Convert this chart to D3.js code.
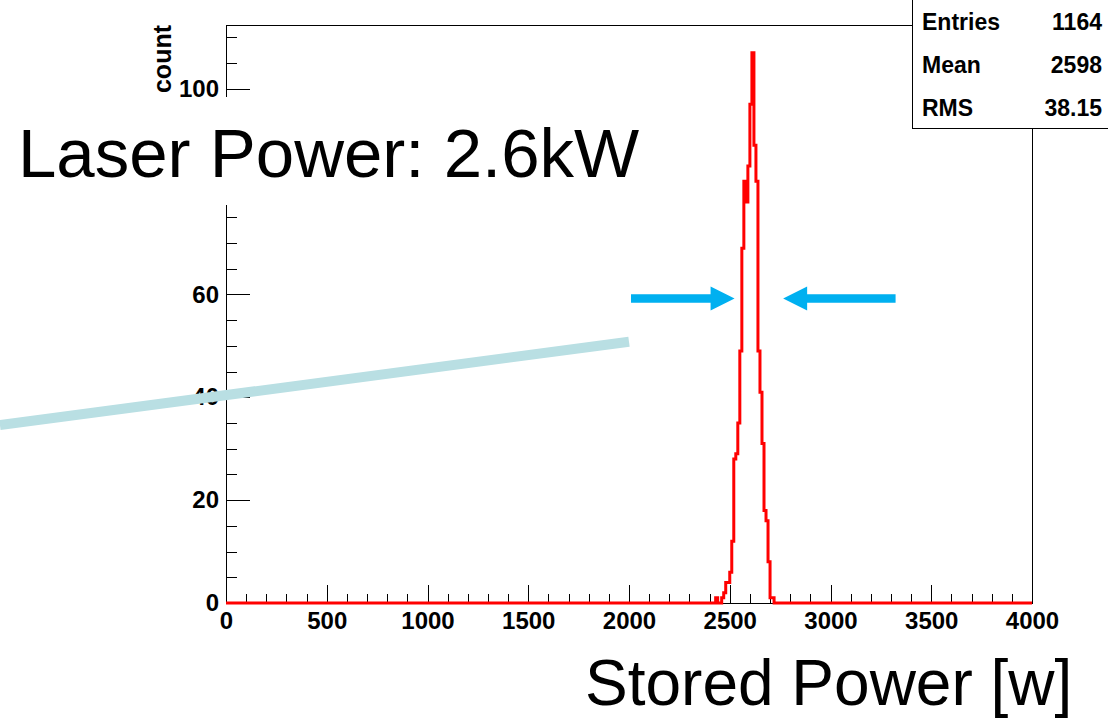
<!DOCTYPE html>
<html>
<head>
<meta charset="utf-8">
<script src="https://cdn.jsdelivr.net/npm/d3@7"></script>
<style>
  html, body { margin: 0; padding: 0; background: #fff; }
  svg { display: block; }
  .axis text { font-family: "Liberation Sans", Arial, Helvetica, sans-serif; font-weight: bold; font-size: 24px; fill: #000; }
  .axis path, .axis line { stroke: #000; stroke-width: 1px; shape-rendering: crispEdges; }
</style>
</head>
<body>
<svg id="chart" width="1108" height="719"></svg>
<script>
// Stored power histogram, 10 W bins (only the populated range is listed; all other bins are empty)
const binWidth = 10;
const binLow = [2430, 2440, 2450, 2460, 2470, 2480, 2490, 2500, 2510, 2520,
                2530, 2540, 2550, 2560, 2570, 2580, 2590, 2600, 2610, 2620,
                2630, 2640, 2650, 2660, 2670, 2680, 2690, 2700, 2710];
const counts = [1, 0, 0, 1, 2, 4, 4, 6, 12, 28,
                29, 35, 49, 69, 82, 78, 85, 97, 107, 89,
                82, 49, 41, 31, 18, 16, 8, 1, 1];

// Axis ticks
const xMajorTicks = [0, 500, 1000, 1500, 2000, 2500, 3000, 3500, 4000];
const xMinorTicks = d3.range(0, 4001, 100);
const yMajorTicks = [0, 20, 40, 60, 80, 100];
const yMinorTicks = d3.range(0, 112, 5);
const yHiddenLabels = [80]; // covered by the title box

// Statistics panel
const statNames = ["Entries", "Mean", "RMS"];
const statValues = ["1164", "2598", "38.15"];

// Annotations, in data units (power, count)
const fitLine = [[-1122, 34.6], [2000, 50.8]];
const arrowLevel = 59.2;
const arrowLeft = [2010, 2524];   // tail, tip
const arrowRight = [3323, 2765];  // tail, tip

const titleText = "Laser Power: 2.6kW";
const xTitle = "Stored Power [w]";
const yTitle = "count";

const svg = d3.select("#chart");
const x = d3.scaleLinear().domain([0, 4000]).range([226, 1032]);
const y = d3.scaleLinear().domain([0, 112.4]).range([603, 25]);

// Frame
svg.append("rect")
  .attr("x", x(0)).attr("y", y(112.4))
  .attr("width", x(4000) - x(0)).attr("height", y(0) - y(112.4))
  .attr("fill", "none").attr("stroke", "#000").attr("stroke-width", 1)
  .attr("shape-rendering", "crispEdges");

// X axis: ticks point up into the frame
const gxMinor = svg.append("g").attr("class", "axis").attr("transform", `translate(0,${y(0)})`)
  .call(d3.axisBottom(x).tickValues(xMinorTicks).tickSize(-9).tickFormat(""));
gxMinor.select(".domain").remove();
svg.append("g").attr("class", "axis").attr("transform", `translate(0,${y(0)})`)
  .call(d3.axisBottom(x).tickValues(xMajorTicks).tickSize(-18).tickPadding(9).tickSizeOuter(0).tickFormat(d3.format("d")));

// Y axis: ticks point right into the frame
const gyMinor = svg.append("g").attr("class", "axis").attr("transform", `translate(${x(0)},0)`)
  .call(d3.axisLeft(y).tickValues(yMinorTicks).tickSize(-11).tickFormat(""));
gyMinor.select(".domain").remove();
svg.append("g").attr("class", "axis").attr("transform", `translate(${x(0)},0)`)
  .call(d3.axisLeft(y).tickValues(yMajorTicks).tickSize(-24).tickPadding(7).tickSizeOuter(0)
    .tickFormat(d => yHiddenLabels.includes(d) ? "" : d3.format("d")(d)));

// Y title
svg.append("text")
  .attr("transform", `translate(171,${y(112.4)}) rotate(-90)`)
  .attr("text-anchor", "end")
  .attr("font-family", "Liberation Sans, Arial, sans-serif")
  .attr("font-weight", "bold").attr("font-size", 25)
  .text(yTitle);

// Histogram outline as a step path
const stepPts = [[0, 0]];
for (let i = 0; i < binLow.length; i++) {
  const prev = i === 0 ? 0 : counts[i - 1];
  stepPts.push([binLow[i], prev]);
  stepPts.push([binLow[i], counts[i]]);
}
stepPts.push([binLow[binLow.length - 1] + binWidth, counts[counts.length - 1]]);
stepPts.push([binLow[binLow.length - 1] + binWidth, 0]);
stepPts.push([4000, 0]);
svg.append("path")
  .attr("d", d3.line().x(d => x(d[0])).y(d => y(d[1]))(stepPts))
  .attr("fill", "none").attr("stroke", "#ff0000").attr("stroke-width", 3)
  .attr("stroke-linejoin", "miter");

// Statistics panel
const stats = svg.append("g");
stats.append("rect")
  .attr("x", 912.5).attr("y", -2).attr("width", 200).attr("height", 130.5)
  .attr("fill", "#fff").attr("stroke", "#000").attr("stroke-width", 1);
const statBaselines = [30, 73, 116];
statNames.forEach((n, i) => {
  stats.append("text").attr("x", 922).attr("y", statBaselines[i])
    .attr("font-family", "Liberation Sans, Arial, sans-serif").attr("font-weight", "bold").attr("font-size", 23)
    .text(n);
  stats.append("text").attr("x", 1102).attr("y", statBaselines[i]).attr("text-anchor", "end")
    .attr("font-family", "Liberation Sans, Arial, sans-serif").attr("font-weight", "bold").attr("font-size", 23)
    .text(statValues[i]);
});

// Title box (opaque, sits over the axis)
svg.append("rect").attr("x", 0).attr("y", 97).attr("width", 650).attr("height", 108).attr("fill", "#fff");
svg.append("text").attr("x", 18).attr("y", 177)
  .attr("font-family", "Liberation Sans, Arial, sans-serif").attr("font-size", 69)
  .text(titleText);

// Guide line
svg.append("line")
  .attr("x1", x(fitLine[0][0])).attr("y1", y(fitLine[0][1]))
  .attr("x2", x(fitLine[1][0])).attr("y2", y(fitLine[1][1]))
  .attr("stroke", "#b9dfe3").attr("stroke-width", 10);

// Width arrows
function arrow(tail, tip) {
  const x0 = x(tail), x1 = x(tip), yc = y(arrowLevel);
  const dir = Math.sign(x1 - x0);
  const headLen = 24, headHalf = 12, shaftHalf = 4.2;
  const xb = x1 - dir * headLen;
  const p = [[x0, yc - shaftHalf], [xb, yc - shaftHalf], [xb, yc - headHalf], [x1, yc],
             [xb, yc + headHalf], [xb, yc + shaftHalf], [x0, yc + shaftHalf]];
  svg.append("path").attr("d", "M" + p.map(q => q.join(",")).join("L") + "Z").attr("fill", "#00b0f0");
}
arrow(arrowLeft[0], arrowLeft[1]);
arrow(arrowRight[0], arrowRight[1]);

// X title
svg.append("text").attr("x", 585).attr("y", 705)
  .attr("font-family", "Liberation Sans, Arial, sans-serif").attr("font-size", 64)
  .text(xTitle);
</script>
</body>
</html>
